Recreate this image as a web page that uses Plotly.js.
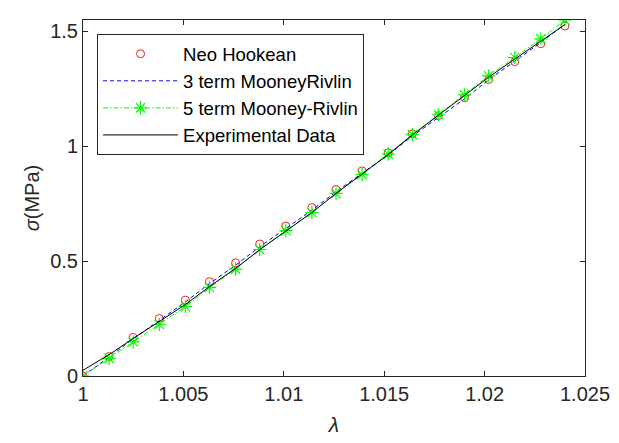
<!DOCTYPE html>
<html>
<head>
<meta charset="utf-8">
<script src="https://cdn.plot.ly/plotly-3.0.1.min.js"></script>
<style>html,body{margin:0;padding:0;background:#fff;}#chart{width:619px;height:443px;}</style>
</head>
<body>
<div id="chart"></div>
<script>
// Stretch ratio lambda
const lambda = [1.0000, 1.0013, 1.0025, 1.0038, 1.0051, 1.0063, 1.0076, 1.0088, 1.0101, 1.0114,
                1.0126, 1.0139, 1.0152, 1.0164, 1.0177, 1.0190, 1.0202, 1.0215, 1.0228, 1.0240];
// Neo Hookean model (MPa)
const neoHookean = [0, 0.085, 0.168, 0.250, 0.330, 0.410, 0.492, 0.574, 0.652, 0.732,
                    0.811, 0.892, 0.971, 1.053, 1.132, 1.210, 1.289, 1.367, 1.445, 1.522];
// 3 term Mooney-Rivlin (MPa)
const mooney3 = [0, 0.082, 0.162, 0.242, 0.322, 0.402, 0.482, 0.562, 0.642, 0.721,
                 0.801, 0.881, 0.962, 1.043, 1.124, 1.205, 1.288, 1.370, 1.450, 1.530];
// 5 term Mooney-Rivlin (MPa)
const mooney5 = [0, 0.077, 0.148, 0.224, 0.302, 0.385, 0.465, 0.550, 0.632, 0.711,
                 0.794, 0.876, 0.965, 1.050, 1.136, 1.222, 1.305, 1.385, 1.466, 1.548];
// Experimental data (MPa)
const experimental = [0.025, 0.093, 0.163, 0.236, 0.311, 0.389, 0.468, 0.549, 0.630, 0.711,
                      0.794, 0.878, 0.963, 1.048, 1.133, 1.217, 1.299, 1.378, 1.455, 1.528];

const xTicks = [1, 1.005, 1.01, 1.015, 1.02, 1.025];
const xTickText = ['1', '1.005', '1.01', '1.015', '1.02', '1.025'];
const yTicks = [0, 0.5, 1, 1.5];
const yTickText = ['0', '0.5', '1', '1.5'];

const FONT = 'Liberation Sans, Arial, sans-serif';
const AX = '#262626';

const traces = [
  {x: lambda, y: neoHookean, name: 'Neo Hookean', type: 'scatter', mode: 'markers',
   marker: {symbol: 'circle-open', size: 8, color: '#f02020', line: {width: 1, color: '#f02020'}}},
  {x: lambda, y: mooney3, name: '3 term MooneyRivlin', type: 'scatter', mode: 'lines',
   line: {color: '#0000ff', width: 1, dash: '4px,3px'}},
  {x: lambda, y: mooney5, name: '5 term Mooney-Rivlin', type: 'scatter', mode: 'lines+markers',
   line: {color: '#00ff00', width: 1, dash: '5px,2px,1.5px,2px'},
   marker: {symbol: 'asterisk-open', size: 11, color: '#00ff00', line: {width: 1.2, color: '#00ff00'}}},
  {x: lambda, y: experimental, name: 'Experimental Data', type: 'scatter', mode: 'lines',
   line: {color: '#000000', width: 1}}
];

const layout = {
  width: 619, height: 443,
  margin: {l: 83, r: 34, t: 20, b: 67, pad: 0},
  paper_bgcolor: '#ffffff', plot_bgcolor: '#ffffff',
  font: {family: FONT, size: 19, color: AX},
  showlegend: true,
  legend: {
    x: 0.028, y: 0.96, xanchor: 'left', yanchor: 'top',
    bgcolor: '#ffffff', bordercolor: AX, borderwidth: 1,
    font: {family: FONT, size: 18.5, color: '#000000'},
    itemwidth: 75, tracegroupgap: 0
  },
  xaxis: {
    range: [1, 1.025], tickvals: xTicks, ticktext: xTickText,
    ticks: 'inside', ticklen: 5, tickcolor: AX, tickwidth: 1,
    showline: true, linecolor: AX, linewidth: 1, mirror: 'ticks',
    showgrid: false, zeroline: false,
    tickfont: {family: FONT, size: 20, color: AX},
    title: {text: '<i>λ</i>', font: {family: FONT, size: 21, color: AX}, standoff: 13}
  },
  yaxis: {
    range: [0, 1.548], tickvals: yTicks, ticktext: yTickText,
    ticks: 'inside', ticklen: 5, tickcolor: AX, tickwidth: 1,
    showline: true, linecolor: AX, linewidth: 1, mirror: 'ticks',
    showgrid: false, zeroline: false,
    tickfont: {family: FONT, size: 20, color: AX},
    title: {text: '<i>σ</i>(MPa)', font: {family: FONT, size: 20, color: AX}, standoff: 5}
  }
};

Plotly.newPlot('chart', traces, layout, {displayModeBar: false, staticPlot: true});
</script>
</body>
</html>
